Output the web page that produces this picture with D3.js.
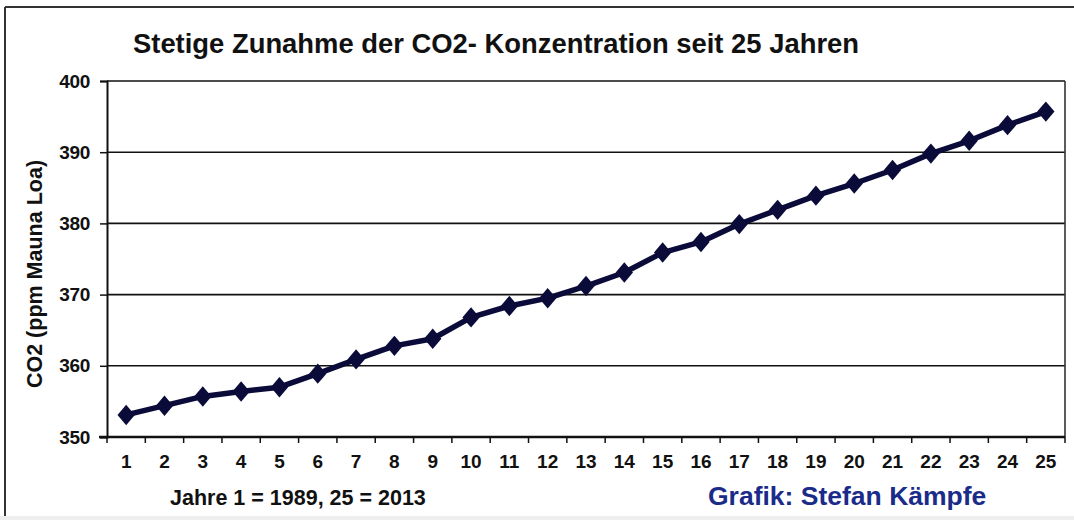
<!DOCTYPE html>
<html>
<head>
<meta charset="utf-8">
<script src="https://cdn.jsdelivr.net/npm/d3@7"></script>
<style>
  body { margin: 0; background: #fff; }
  svg text { font-family: "Liberation Sans", Arial, sans-serif; font-weight: bold; fill: #111; }
</style>
</head>
<body>
<svg id="chart" width="1074" height="520"></svg>
<script>
// years 1..25 (1989 - 2013)
const years = d3.range(1, 26);
const co2 = [353.1, 354.4, 355.7, 356.4, 357.0, 358.9, 360.9, 362.8, 363.8, 366.8,
             368.4, 369.5, 371.2, 373.1, 375.9, 377.4, 379.9, 381.9, 383.9, 385.6,
             387.5, 389.8, 391.6, 393.8, 395.7];
const yTicks = [350, 360, 370, 380, 390, 400];

const titleText = 'Stetige Zunahme der CO2- Konzentration seit 25 Jahren';
const yLabel = 'CO2 (ppm Mauna Loa)';
const noteText = 'Jahre 1 = 1989, 25 = 2013';
const creditText = 'Grafik: Stefan Kämpfe';

const svg = d3.select('#chart');
const plotL = 107, plotR = 1065, plotT = 81, plotB = 437;
const ink = '#0b0b3a';

// outer frame of the picture
svg.append('line').attr('x1', 5).attr('x2', 5).attr('y1', 7).attr('y2', 520)
  .attr('stroke', '#333').attr('stroke-width', 2);
svg.append('line').attr('x1', 5).attr('x2', 1074).attr('y1', 7).attr('y2', 7)
  .attr('stroke', '#333').attr('stroke-width', 2);
svg.append('rect').attr('x', 0).attr('y', 516).attr('width', 1074).attr('height', 4)
  .attr('fill', '#eee');

const x = d3.scaleBand().domain(years).range([plotL, plotR]);
const y = d3.scaleLinear().domain([350, 400]).range([plotB, plotT]);
const cx = d => x(d) + x.bandwidth() / 2;

// grid lines
svg.append('g').selectAll('line').data(yTicks.slice(1)).enter().append('line')
  .attr('x1', plotL).attr('x2', plotR)
  .attr('y1', d => y(d)).attr('y2', d => y(d))
  .attr('stroke', '#111').attr('stroke-width', 1.6);

// right edge of plot
svg.append('line').attr('x1', plotR).attr('x2', plotR).attr('y1', plotT).attr('y2', plotB)
  .attr('stroke', '#333').attr('stroke-width', 1.6);

// y axis
const yAxis = svg.append('g').attr('transform', `translate(${plotL},0)`)
  .call(d3.axisLeft(y).tickValues(yTicks).tickSize(7).tickPadding(10));
yAxis.select('.domain').attr('stroke', '#111').attr('stroke-width', 2);
yAxis.selectAll('.tick line').attr('stroke', '#111').attr('stroke-width', 1.5);
yAxis.selectAll('text').style('font-size', '19px').attr('letter-spacing', '-0.3');

// x axis: ticks at band edges, labels at band centres
const xAxis = svg.append('g').attr('transform', `translate(0,${plotB})`)
  .call(d3.axisBottom(x).tickSize(0).tickPadding(17.5));
xAxis.select('.domain').remove();
xAxis.selectAll('text').style('font-size', '19px');
svg.append('line').attr('x1', plotL - 8).attr('x2', plotR).attr('y1', plotB).attr('y2', plotB)
  .attr('stroke', '#111').attr('stroke-width', 2.4);
svg.append('g').selectAll('line').data(years.concat([26])).enter().append('line')
  .attr('x1', d => d <= 25 ? x(d) : plotR).attr('x2', d => d <= 25 ? x(d) : plotR)
  .attr('y1', plotB).attr('y2', plotB + 6)
  .attr('stroke', '#111').attr('stroke-width', 1.5);

// line + diamonds
const line = d3.line()
  .x((d, i) => cx(years[i]))
  .y(d => y(d));
svg.append('path').datum(co2).attr('d', line)
  .attr('fill', 'none').attr('stroke', ink).attr('stroke-width', 5.5)
  .attr('stroke-linejoin', 'round');

svg.append('g').selectAll('path').data(co2).enter().append('path')
  .attr('d', d3.symbol().type(d3.symbolSquare).size(150))
  .attr('transform', (d, i) => `translate(${cx(years[i])},${y(d)}) scale(1,1.18) rotate(45)`)
  .attr('fill', ink);

// texts
svg.append('text').attr('x', 133).attr('y', 53).text(titleText)
  .style('font-size', '27.4px');

svg.append('text')
  .attr('transform', 'translate(41.5,274) rotate(-90)')
  .attr('text-anchor', 'middle')
  .style('font-size', '21.5px')
  .text(yLabel);

svg.append('text').attr('x', 170).attr('y', 505).text(noteText)
  .style('font-size', '21.5px');

svg.append('text').attr('x', 708).attr('y', 505).text(creditText)
  .style('font-size', '26.5px').style('fill', '#1b2b8a');
</script>
</body>
</html>
